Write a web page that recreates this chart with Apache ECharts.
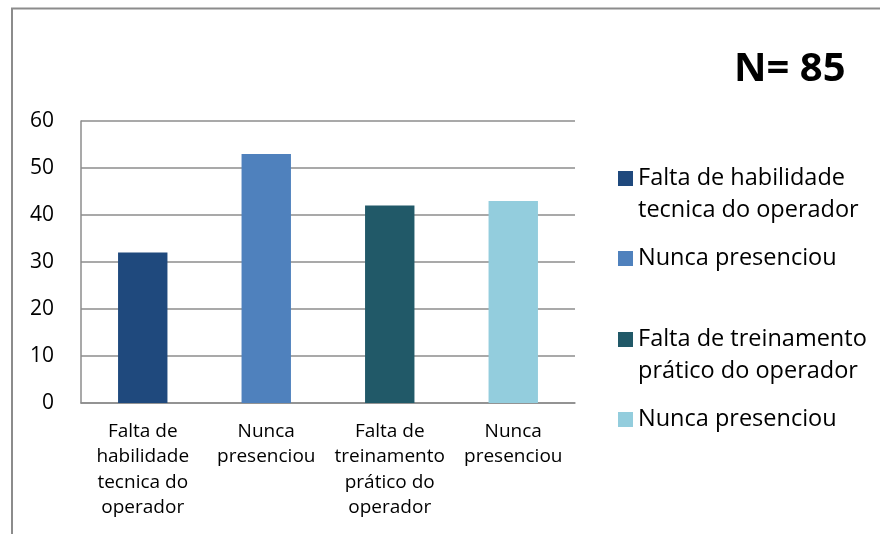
<!DOCTYPE html>
<html>
<head>
<meta charset="utf-8">
<script src="https://cdn.jsdelivr.net/npm/echarts@6/dist/echarts.min.js"></script>
<style>
  html, body { margin: 0; padding: 0; background: #fff; }
  #chart { width: 880px; height: 534px; }
</style>
</head>
<body>
<div id="chart"></div>
<script>
// categories shown under the bars
const categories = [
  'Falta de\nhabilidade\ntecnica do\noperador',
  'Nunca\npresenciou',
  'Falta de\ntreinamento\nprático do\noperador',
  'Nunca\npresenciou'
];
// legend labels (one per bar)
const legendLabels = [
  'Falta de habilidade\ntecnica do operador',
  'Nunca presenciou',
  'Falta de treinamento\nprático do operador',
  'Nunca presenciou'
];
const values = [32, 53, 42, 43];
const colors = ['#1f497d', '#4f81bd', '#215968', '#93cddd'];
const yTicks = [0, 10, 20, 30, 40, 50, 60];
const sampleSize = 'N= 85';

const font = '"Open Sans", sans-serif';
const gray = '#8c8c8c';
const legendLine = 32;

const chart = echarts.init(document.getElementById('chart'));

// one series per bar, stacked so every bar sits centred on its category
const seriesIds = values.map((v, i) => 's' + i);
const series = values.map((v, i) => ({
  name: seriesIds[i],
  type: 'bar',
  stack: 'all',
  barWidth: '40%',
  itemStyle: { color: colors[i] },
  data: values.map((x, j) => (j === i ? x : '-'))
}));

// legend icon centres; the icon sits on the first text line
const legendIconCentres = [178.5, 258.5, 339.5, 419.5];
const legends = seriesIds.map((id, i) => {
  const twoLines = legendLabels[i].indexOf('\n') >= 0;
  // an empty leading line keeps the first real line level with the icon
  const text = twoLines ? '\n' + legendLabels[i] : legendLabels[i];
  const lines = text.split('\n').length;
  return {
    data: [id],
    orient: 'vertical',
    left: 618,
    top: legendIconCentres[i] - lines * legendLine / 2,
    padding: 0,
    itemWidth: 15,
    itemHeight: 15,
    icon: 'rect',
    selectedMode: false,
    formatter: () => text,
    textStyle: {
      fontFamily: font,
      fontSize: 23.5,
      lineHeight: legendLine,
      color: '#000'
    }
  };
});

chart.setOption({
  animation: false,
  backgroundColor: '#fff',
  graphic: [
    {
      type: 'polyline',
      shape: { points: [[12, 534], [12, 8.5], [880, 8.5]] },
      style: { stroke: gray, lineWidth: 2, fill: null }
    },
    {
      type: 'text',
      left: 734,
      top: 50,
      style: {
        text: sampleSize,
        font: 'bold 40px ' + font,
        fill: '#000'
      }
    }
  ],
  legend: legends,
  grid: { left: 81, top: 121, width: 494, height: 282 },
  xAxis: {
    type: 'category',
    data: categories,
    axisTick: { show: false },
    axisLine: { lineStyle: { color: gray, width: 1.5 } },
    axisLabel: {
      interval: 0,
      margin: 16,
      fontFamily: font,
      fontSize: 19,
      lineHeight: 25.3,
      color: '#000',
      align: 'center'
    }
  },
  yAxis: {
    type: 'value',
    min: yTicks[0],
    max: yTicks[yTicks.length - 1],
    interval: 10,
    axisLine: { show: true, lineStyle: { color: gray, width: 1.5 } },
    axisTick: { show: false },
    splitLine: { lineStyle: { color: gray, width: 1.5 } },
    axisLabel: {
      margin: 27,
      fontFamily: font,
      fontSize: 21,
      color: '#000'
    }
  },
  series: series
});
</script>
</body>
</html>
